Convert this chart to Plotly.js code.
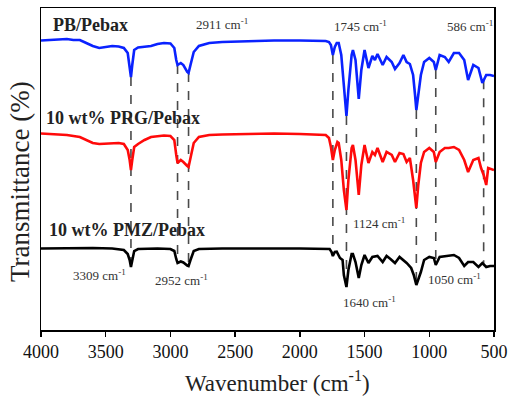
<!DOCTYPE html>
<html>
<head>
<meta charset="utf-8">
<script src="https://cdn.plot.ly/plotly-3.0.1.min.js"></script>
<style>html,body{margin:0;padding:0;background:#fff;}#chart{width:508px;height:396px;}</style>
</head>
<body>
<div id="chart"></div>
<script>
// Wavenumbers (cm-1) and offset transmittance (arbitrary units)
const pbWave = [4000,3900,3800,3750,3700,3650,3600,3550,3500,3450,3400,3360,3330,3315,3305,3295,3280,3250,3200,3150,3100,3050,3000,2970,2955,2945,2920,2900,2870,2860,2845,2820,2780,2700,2600,2400,2200,2000,1800,1775,1760,1745,1730,1715,1700,1680,1660,1640,1625,1600,1590,1570,1545,1525,1500,1470,1440,1420,1400,1360,1330,1290,1265,1230,1200,1175,1150,1125,1110,1100,1085,1065,1040,1000,965,950,920,880,850,810,770,730,700,660,620,590,560,530,500];
const pbVal  = [289.5,290,291,290,290,287,284,282,283,284,283.5,282,277,265,253,265,280,282.5,283,284,286,287,286.5,282,270,265,267,265,258,257,265,278,284,287,288,289,289.5,289.5,289,288,285,275,283,287,287,275,245,214,240,275,280,270,231,260,280,262,274,270,276,265,273,268,261,267,275,268,266,255,235,220,235,255,268,272,268,260,275,273,268,277,277,270,250,265,262,247,255,255,254];

const prgWave = [4000,3900,3800,3700,3650,3600,3550,3500,3450,3400,3360,3330,3315,3305,3295,3280,3250,3200,3150,3100,3050,3000,2970,2955,2945,2920,2900,2870,2860,2845,2820,2780,2700,2600,2400,2200,2000,1800,1775,1760,1745,1730,1710,1700,1680,1660,1640,1625,1600,1590,1570,1545,1525,1500,1470,1440,1420,1400,1360,1330,1290,1265,1230,1200,1175,1150,1125,1110,1100,1085,1065,1040,1000,965,950,920,880,850,810,770,730,700,660,620,600,580,560,545,500];
const prgVal  = [196.5,196,195,193,190,187,186,186.5,187,187,186,180,170,160,170,183,186,190,193,194,194.5,194,190,175,167,170,168,164,163,172,187,193,195,195.5,196,196.5,196,195,192,183,170,180,188,187,170,140,120,150,182,185,170,135,165,185,167,178,175,182,168,178,175,168,177,176,168,172,150,135,122,145,167,178,182,178,168,178,182,182,183,180,170,158,170,172,162,155,145,162,160];

const pmzWave = [4000,3800,3600,3450,3360,3330,3315,3305,3295,3280,3250,3100,3000,2970,2955,2945,2920,2900,2870,2860,2845,2820,2780,2600,2000,1800,1770,1755,1745,1730,1715,1690,1670,1660,1640,1625,1600,1590,1570,1545,1525,1500,1470,1440,1400,1360,1330,1300,1265,1230,1200,1175,1140,1120,1100,1085,1065,1040,1000,965,950,920,880,810,770,730,700,660,620,590,560,530,500];
const pmzVal  = [81.5,82,82,81.5,80,76,70,63,70,79,81,81.5,81,79,71,67,68.5,67.5,64.5,64,70,79,81,81.5,81.5,81.5,81,78,74,78,78.3,72,70,55,43,60,76,76,68,52,65,75,67,73,74,68,74,71,67,73,70,67,62,55,45,50,58,70,73,72,65,73,74,75,72,64,68,68,63,67,63,64,64];

const seriesNames = ["PB/Pebax", "10 wt% PRG/Pebax", "10 wt% PMZ/Pebax"];
const peakLines = [3305, 2945, 2860, 1745, 1640, 1100, 950, 580];
const xTicks = [4000, 3500, 3000, 2500, 2000, 1500, 1000, 500];

function interp(xs, ys, x) {
  for (let i = 0; i < xs.length - 1; i++) {
    if ((xs[i] >= x && xs[i+1] <= x)) {
      const t = (xs[i] - x) / (xs[i] - xs[i+1]);
      return ys[i] + t * (ys[i+1] - ys[i]);
    }
  }
  return ys[ys.length - 1];
}

const serif = "Liberation Serif";
const traces = [
  {x: pbWave, y: pbVal, name: seriesNames[0], mode: "lines", line: {color: "#0a22ff", width: 2.6}},
  {x: prgWave, y: prgVal, name: seriesNames[1], mode: "lines", line: {color: "#ff0a0a", width: 2.6}},
  {x: pmzWave, y: pmzVal, name: seriesNames[2], mode: "lines", line: {color: "#000000", width: 2.6}}
];

const shapes = peakLines.map(w => ({
  type: "line", xref: "x", yref: "y", layer: "below",
  x0: w, x1: w, y0: interp(pbWave, pbVal, w), y1: interp(pmzWave, pmzVal, w),
  line: {color: "#4a4a4a", width: 1.6, dash: "dash"}
}));

function lab(text, x, y, size, bold) {
  return {text: bold ? "<b>" + text + "</b>" : text, x: x, y: y, xref: "x", yref: "y",
    xanchor: "left", yanchor: "middle", showarrow: false,
    font: {family: serif, size: size, color: bold ? "#222" : "#333"}};
}
const annotations = [
  lab(seriesNames[0], 3920, 305, 18, true),
  lab(seriesNames[1], 3975, 212, 18, true),
  lab(seriesNames[2], 3950, 100, 18, true),
  lab("2911 cm<sup>-1</sup>", 2815, 306, 13, false),
  lab("1745 cm<sup>-1</sup>", 1750, 304, 13, false),
  lab("586 cm<sup>-1</sup>", 876, 304, 13, false),
  lab("1124 cm<sup>-1</sup>", 1603, 107, 13, false),
  lab("3309 cm<sup>-1</sup>", 3766, 55, 13, false),
  lab("2952 cm<sup>-1</sup>", 3132, 50, 13, false),
  lab("1640 cm<sup>-1</sup>", 1680, 28, 13, false),
  lab("1050 cm<sup>-1</sup>", 1023, 51, 13, false),
  {text: "Transmittance (%)", xref: "paper", yref: "paper", x: -0.046, y: 0.46,
   xanchor: "center", yanchor: "middle", textangle: -90, showarrow: false,
   font: {family: serif, size: 27, color: "#222"}},
  {text: "Wavenumber (cm<sup>-1</sup>)", xref: "paper", yref: "paper", x: 0.521, y: -0.16,
   xanchor: "center", yanchor: "middle", showarrow: false,
   font: {family: serif, size: 23, color: "#222"}}
];

const layout = {
  width: 508, height: 396,
  margin: {l: 41, r: 14, t: 8, b: 66},
  paper_bgcolor: "#fff", plot_bgcolor: "#fff",
  showlegend: false,
  font: {family: serif, color: "#111"},
  xaxis: {
    range: [4000, 500], tickvals: xTicks, ticktext: xTicks.map(String),
    ticks: "outside", ticklen: 5, tickwidth: 1.5, tickcolor: "#000",
    ticklabeloverflow: "allow",
    showline: true, linecolor: "#000", linewidth: 1.5, mirror: true,
    showgrid: false, zeroline: false,
    tickfont: {family: serif, size: 18, color: "#111"}
  },
  yaxis: {
    range: [0, 322], showticklabels: false, ticks: "",
    showline: true, linecolor: "#000", linewidth: 1.5, mirror: true,
    showgrid: false, zeroline: false
  },
  shapes: shapes,
  annotations: annotations
};

Plotly.newPlot("chart", traces, layout, {displayModeBar: false, staticPlot: true});
</script>
</body>
</html>
